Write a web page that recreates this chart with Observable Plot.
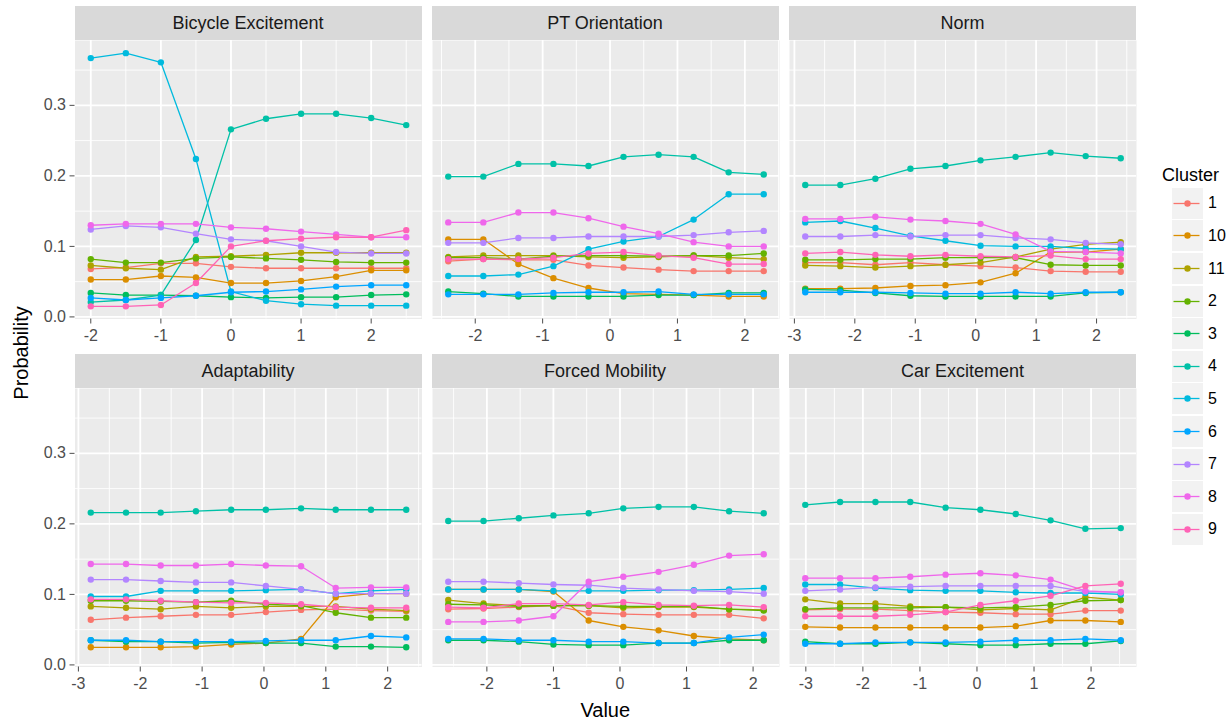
<!DOCTYPE html>
<html><head><meta charset="utf-8">
<script src="https://cdn.jsdelivr.net/npm/d3@7"></script>
<script src="https://cdn.jsdelivr.net/npm/@observablehq/plot@0.6"></script>
<style>
body{margin:0;background:#fff;font-family:"Liberation Sans",Arial,sans-serif;}
#chart{position:relative;width:1226px;height:721px;overflow:hidden;background:#fff;}
.abs{position:absolute;}
.strip{position:absolute;background:#D9D9D9;color:#1A1A1A;font-size:18px;text-align:center;}
</style>
</head><body><div id="chart"></div>
<script>
// ---------- data ----------
const clusters = ["1","10","11","2","3","4","5","6","7","8","9"];
const clusterColors = ["#F8766D","#DB8E00","#AEA200","#64B200","#00BD5C","#00C1A7","#00BADE","#00A6FF","#B385FF","#EF67EB","#FF63B6"];
const facetNames = ["Bicycle Excitement","PT Orientation","Norm","Adaptability","Forced Mobility","Car Excitement"];
const yTicks = [0, 0.1, 0.2, 0.3];

const xBicycle = [-2,-1.5,-1,-0.5,0,0.5,1,1.5,2,2.5];
const xPT = [-2.4,-1.88,-1.36,-0.84,-0.32,0.2,0.72,1.24,1.76,2.28];
const xNorm = [-2.82,-2.24,-1.66,-1.08,-0.5,0.08,0.66,1.24,1.82,2.4];
const xAdapt = [-2.8,-2.23,-1.67,-1.1,-0.53,0.03,0.6,1.16,1.73,2.3];
const xForced = [-2.58,-2.05,-1.52,-1.0,-0.47,0.05,0.58,1.11,1.64,2.16];
const xCar = [-3.01,-2.4,-1.78,-1.17,-0.55,0.06,0.68,1.29,1.9,2.52];

const ticksBicycle = [-2,-1,0,1,2];
const ticksPT = [-2,-1,0,1,2];
const ticksNorm = [-3,-2,-1,0,1,2];
const ticksAdapt = [-3,-2,-1,0,1,2];
const ticksForced = [-2,-1,0,1,2];
const ticksCar = [-3,-2,-1,0,1,2];

// rows in cluster order: 1,10,11,2,3,4,5,6,7,8,9
const pBicycle = [
 [0.068,0.070,0.076,0.076,0.071,0.069,0.069,0.069,0.069,0.069],
 [0.053,0.053,0.058,0.056,0.048,0.048,0.051,0.057,0.066,0.066],
 [0.073,0.069,0.067,0.085,0.086,0.088,0.091,0.091,0.091,0.091],
 [0.082,0.077,0.077,0.083,0.085,0.083,0.081,0.078,0.077,0.077],
 [0.034,0.031,0.031,0.030,0.028,0.027,0.028,0.028,0.031,0.032],
 [0.021,0.024,0.031,0.109,0.266,0.281,0.288,0.288,0.282,0.272],
 [0.367,0.374,0.361,0.224,0.036,0.023,0.018,0.016,0.016,0.016],
 [0.027,0.024,0.027,0.030,0.035,0.036,0.039,0.043,0.045,0.045],
 [0.124,0.129,0.127,0.118,0.110,0.108,0.100,0.092,0.090,0.090],
 [0.130,0.132,0.132,0.132,0.127,0.125,0.121,0.117,0.113,0.113],
 [0.015,0.015,0.017,0.048,0.100,0.108,0.111,0.113,0.113,0.123]
];
const pPT = [
 [0.079,0.082,0.081,0.081,0.073,0.070,0.067,0.065,0.065,0.065],
 [0.110,0.110,0.075,0.055,0.041,0.033,0.032,0.031,0.029,0.029],
 [0.085,0.087,0.087,0.087,0.085,0.084,0.085,0.087,0.084,0.082],
 [0.084,0.084,0.082,0.086,0.087,0.087,0.086,0.087,0.087,0.090],
 [0.036,0.033,0.029,0.029,0.029,0.029,0.031,0.031,0.034,0.034],
 [0.199,0.199,0.217,0.217,0.214,0.227,0.230,0.227,0.205,0.202],
 [0.058,0.058,0.060,0.072,0.096,0.107,0.114,0.138,0.174,0.174],
 [0.032,0.032,0.032,0.034,0.035,0.035,0.036,0.032,0.032,0.032],
 [0.105,0.105,0.112,0.112,0.114,0.114,0.114,0.116,0.120,0.122],
 [0.134,0.134,0.148,0.148,0.140,0.128,0.118,0.106,0.100,0.100],
 [0.082,0.082,0.082,0.084,0.090,0.092,0.087,0.084,0.075,0.075]
];
const pNorm = [
 [0.077,0.077,0.074,0.077,0.074,0.072,0.070,0.065,0.064,0.064],
 [0.040,0.040,0.041,0.044,0.045,0.049,0.062,0.092,0.092,0.096],
 [0.073,0.072,0.070,0.072,0.074,0.077,0.085,0.096,0.103,0.106],
 [0.081,0.081,0.082,0.082,0.084,0.084,0.084,0.074,0.073,0.073],
 [0.039,0.038,0.034,0.030,0.029,0.029,0.029,0.029,0.034,0.035],
 [0.187,0.187,0.196,0.210,0.214,0.222,0.227,0.233,0.228,0.225],
 [0.134,0.136,0.126,0.115,0.108,0.101,0.100,0.100,0.097,0.096],
 [0.035,0.035,0.035,0.034,0.033,0.033,0.035,0.033,0.035,0.035],
 [0.114,0.114,0.116,0.114,0.116,0.116,0.112,0.110,0.105,0.103],
 [0.139,0.139,0.142,0.138,0.136,0.132,0.117,0.093,0.092,0.090],
 [0.090,0.092,0.088,0.086,0.088,0.086,0.085,0.087,0.082,0.082]
];
const pAdapt = [
 [0.064,0.067,0.069,0.071,0.071,0.075,0.078,0.079,0.077,0.076],
 [0.025,0.025,0.025,0.026,0.029,0.031,0.037,0.096,0.101,0.101],
 [0.083,0.081,0.079,0.083,0.081,0.083,0.083,0.083,0.079,0.077],
 [0.091,0.091,0.090,0.089,0.091,0.086,0.084,0.074,0.067,0.067],
 [0.035,0.033,0.033,0.031,0.032,0.031,0.031,0.026,0.026,0.025],
 [0.216,0.216,0.216,0.218,0.220,0.220,0.222,0.220,0.220,0.220],
 [0.097,0.097,0.105,0.105,0.105,0.106,0.107,0.101,0.105,0.107],
 [0.035,0.035,0.033,0.033,0.033,0.034,0.035,0.035,0.041,0.039],
 [0.121,0.121,0.119,0.117,0.117,0.112,0.107,0.101,0.101,0.101],
 [0.143,0.143,0.141,0.141,0.143,0.141,0.140,0.109,0.110,0.110],
 [0.093,0.093,0.091,0.089,0.088,0.088,0.086,0.082,0.081,0.081]
];
const pForced = [
 [0.079,0.080,0.082,0.084,0.074,0.072,0.071,0.071,0.071,0.066],
 [0.107,0.107,0.107,0.104,0.063,0.054,0.049,0.041,0.037,0.035],
 [0.092,0.087,0.084,0.084,0.084,0.081,0.082,0.082,0.079,0.078],
 [0.086,0.085,0.083,0.084,0.084,0.083,0.083,0.083,0.079,0.077],
 [0.035,0.035,0.033,0.029,0.028,0.028,0.031,0.031,0.035,0.035],
 [0.204,0.204,0.208,0.212,0.215,0.222,0.224,0.224,0.218,0.215],
 [0.107,0.107,0.107,0.105,0.105,0.105,0.106,0.106,0.107,0.109],
 [0.037,0.037,0.035,0.035,0.033,0.033,0.031,0.031,0.039,0.043],
 [0.118,0.118,0.116,0.114,0.113,0.109,0.107,0.105,0.104,0.101],
 [0.061,0.061,0.063,0.069,0.118,0.125,0.132,0.142,0.155,0.157],
 [0.082,0.081,0.087,0.087,0.085,0.089,0.085,0.084,0.085,0.082]
];
const pCar = [
 [0.078,0.079,0.079,0.077,0.075,0.074,0.072,0.072,0.077,0.077],
 [0.054,0.053,0.053,0.053,0.053,0.053,0.055,0.063,0.063,0.061],
 [0.093,0.087,0.087,0.083,0.082,0.078,0.080,0.078,0.096,0.092],
 [0.079,0.081,0.081,0.081,0.082,0.081,0.082,0.085,0.091,0.092],
 [0.033,0.030,0.030,0.032,0.030,0.028,0.028,0.030,0.030,0.034],
 [0.227,0.231,0.231,0.231,0.223,0.220,0.214,0.205,0.193,0.194],
 [0.114,0.114,0.109,0.106,0.105,0.105,0.103,0.102,0.102,0.100],
 [0.030,0.030,0.032,0.032,0.032,0.033,0.035,0.035,0.037,0.035],
 [0.105,0.107,0.110,0.111,0.112,0.112,0.112,0.112,0.104,0.103],
 [0.123,0.123,0.123,0.125,0.128,0.130,0.127,0.121,0.105,0.103],
 [0.069,0.069,0.069,0.071,0.075,0.085,0.091,0.098,0.112,0.115]
];

// ---------- layout ----------
const FONT = '"Liberation Sans", Arial, sans-serif';
const PW = 347, PH = 278.5, STRIP = 34;
const lefts = [74.5, 431.5, 789];
const tops = [40, 387.5];
const MB = 34;

const xsList = [xBicycle, xPT, xNorm, xAdapt, xForced, xCar];
const valsList = [pBicycle, pPT, pNorm, pAdapt, pForced, pCar];
const ticksList = [ticksBicycle, ticksPT, ticksNorm, ticksAdapt, ticksForced, ticksCar];

const allY = valsList.flat(2);
const yMin = d3.min(allY), yMax = d3.max(allY), yPad = (yMax - yMin) * 0.05;
const yDomain = [yMin - yPad, yMax + yPad];
const yMinor = [0.05, 0.15, 0.25, 0.35].filter(v => v >= yDomain[0] && v <= yDomain[1]);

const chart = document.getElementById("chart");

function add(el, css) { Object.assign(el.style, css); chart.appendChild(el); return el; }

facetNames.forEach((name, i) => {
  const col = i % 3, row = Math.floor(i / 3);
  const xs = xsList[i], vals = valsList[i], ticks = ticksList[i];
  const rows = [];
  clusters.forEach((c, ci) => vals[ci].forEach((v, j) => rows.push({x: xs[j], y: v, cluster: c})));
  const xMin = d3.min(xs), xMax = d3.max(xs), xPad = (xMax - xMin) * 0.05;
  const xDomain = [xMin - xPad, xMax + xPad];
  const step = ticks[1] - ticks[0];
  const xMinor = [ticks[0] - step / 2, ...ticks.map(t => t + step / 2)].filter(v => v >= xDomain[0] && v <= xDomain[1]);
  const ml = col === 0 ? lefts[0] : 0;
  const marks = [
    Plot.frame({fill: "#EBEBEB", stroke: "none"}),
    Plot.gridY(yMinor, {stroke: "white", strokeOpacity: 1, strokeWidth: 0.9}),
    Plot.gridX(xMinor, {stroke: "white", strokeOpacity: 1, strokeWidth: 0.9}),
    Plot.gridY(yTicks, {stroke: "white", strokeOpacity: 1, strokeWidth: 1.8}),
    Plot.gridX(ticks, {stroke: "white", strokeOpacity: 1, strokeWidth: 1.8}),
    Plot.axisX(ticks, {tickSize: 5, tickPadding: 6, tickFormat: d => String(d), fontSize: 16, color: "#4D4D4D", label: null}),
    Plot.line(rows, {x: "x", y: "y", stroke: "cluster", strokeWidth: 1.3}),
    Plot.dot(rows, {x: "x", y: "y", fill: "cluster", r: 3.2})
  ];
  if (col === 0) marks.push(Plot.axisY(yTicks, {tickSize: 5, tickPadding: 4, tickFormat: d => d.toFixed(1), fontSize: 16, color: "#4D4D4D", label: null}));
  const svg = Plot.plot({
    width: ml + PW, height: PH + MB,
    marginLeft: ml, marginRight: 0, marginTop: 0, marginBottom: MB,
    style: {fontFamily: FONT, background: "transparent", overflow: "visible"},
    x: {domain: xDomain, axis: null, label: null},
    y: {domain: yDomain, axis: null, label: null},
    color: {domain: clusters, range: clusterColors},
    marks
  });
  add(svg, {position: "absolute", left: (col === 0 ? 0 : lefts[col]) + "px", top: tops[row] + "px"});
  const s = document.createElement("div");
  s.className = "strip";
  s.textContent = name;
  add(s, {left: lefts[col] + "px", top: (tops[row] - STRIP) + "px", width: PW + "px", height: STRIP + "px", lineHeight: STRIP + "px"});
});

// axis titles
const yt = document.createElement("div");
yt.textContent = "Probability";
add(yt, {position: "absolute", left: "21px", top: "353px", transform: "translate(-50%,-50%) rotate(-90deg)", fontSize: "20px", color: "#000", fontFamily: FONT, whiteSpace: "nowrap"});
const xt = document.createElement("div");
xt.textContent = "Value";
add(xt, {position: "absolute", left: ((lefts[0] + lefts[2] + PW) / 2) + "px", top: "710px", transform: "translate(-50%,-50%)", fontSize: "20px", color: "#000", fontFamily: FONT, whiteSpace: "nowrap"});

// legend
const lt = document.createElement("div");
lt.textContent = "Cluster";
add(lt, {position: "absolute", left: "1162px", top: "164px", fontSize: "18px", color: "#000", fontFamily: FONT, lineHeight: "22px"});
clusters.forEach((c, i) => {
  const cy = 203.3 + 32.6 * i;
  const key = document.createElement("div");
  key.innerHTML = `<svg width="31" height="31"><line x1="1.5" x2="27.5" y1="15.5" y2="15.5" stroke="${clusterColors[i]}" stroke-width="1.3"/><circle cx="15.5" cy="15.5" r="3.2" fill="${clusterColors[i]}"/></svg>`;
  add(key, {position: "absolute", left: "1172px", top: (cy - 15.5) + "px", width: "31px", height: "31px", background: "#F2F2F2", lineHeight: "0"});
  const lab = document.createElement("div");
  lab.textContent = c;
  add(lab, {position: "absolute", left: "1208px", top: (cy - 10) + "px", fontSize: "16px", lineHeight: "20px", color: "#000", fontFamily: FONT});
});
</script></body></html>
